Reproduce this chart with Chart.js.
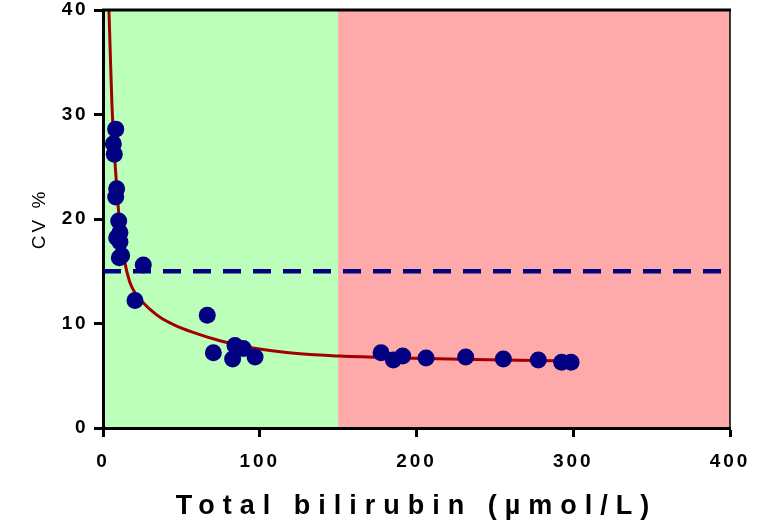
<!DOCTYPE html>
<html>
<head>
<meta charset="utf-8">
<script src="https://cdn.jsdelivr.net/npm/chart.js@4.4.0/dist/chart.umd.min.js"></script>
<style>
  html, body { margin: 0; padding: 0; background: #fff; }
  canvas { display: block; }
</style>
</head>
<body>
<canvas id="cv-chart" width="765" height="527"></canvas>
<script>
// ---- data ----
const bilirubin = [8.1, 6.6, 7.2, 8.7, 8.1, 10.0, 10.8, 8.7, 10.8, 11.9, 10.4, 25.7, 20.4,
                   66.5, 70.4, 84.2, 89.5, 82.7, 97.0,
                   177.4, 185.2, 191.2, 206.1, 231.4, 255.4, 277.7, 292.6, 298.6];
const cvPercent = [28.6, 27.2, 26.2, 22.9, 22.1, 19.8, 18.7, 18.2, 17.8, 16.5, 16.3, 15.6, 12.2,
                   10.8, 7.2, 7.9, 7.6, 6.6, 6.8,
                   7.2, 6.5, 6.9, 6.7, 6.8, 6.6, 6.5, 6.3, 6.3];

// fitted curve
const fitX = [3.8, 4.9, 5.7, 7.0, 8.3, 9.1, 10.5, 12, 14, 17, 21, 25.5, 30, 36.4, 45, 56.6,
              74.6, 95.7, 125.7, 151.2, 190, 227.8, 265, 298.6];
const fitY = [40, 34.6, 31.0, 27.0, 24.0, 22.3, 19.8, 17.8, 15.8, 14.0, 12.8, 12.0, 11.35, 10.6, 9.9, 9.2,
              8.35, 7.65, 7.1, 6.88, 6.7, 6.58, 6.48, 6.4];

const cvLimit   = 15;          // dashed acceptance line
const limitSpan = [0, 400];
const greenZone = [0, 150];
const redZone   = [150, 400];

const xTicks = [0, 100, 200, 300, 400];
const yTicks = [0, 10, 20, 30, 40];

const FONT = '"Liberation Sans", Arial, sans-serif';

// zone shading + top/right frame
const zonePlugin = {
  id: 'zones',
  beforeDraw(chart) {
    const { ctx, chartArea: a, scales: { x } } = chart;
    ctx.save();
    ctx.fillStyle = '#bbffbb';
    ctx.fillRect(x.getPixelForValue(greenZone[0]), a.top, x.getPixelForValue(greenZone[1]) - x.getPixelForValue(greenZone[0]), a.bottom - a.top);
    ctx.fillStyle = '#ffaaaa';
    ctx.fillRect(x.getPixelForValue(redZone[0]), a.top, x.getPixelForValue(redZone[1]) - x.getPixelForValue(redZone[0]), a.bottom - a.top);
    ctx.restore();
  },
  afterDraw(chart) {
    const { ctx, chartArea: a } = chart;
    ctx.save();
    ctx.strokeStyle = '#000';
    ctx.lineWidth = 3;
    ctx.beginPath(); ctx.moveTo(a.left - 1, a.top); ctx.lineTo(a.right + 1, a.top); ctx.stroke();
    ctx.lineWidth = 1.5;
    ctx.beginPath(); ctx.moveTo(a.right, a.top); ctx.lineTo(a.right, a.bottom); ctx.stroke();
    ctx.restore();
  }
};

// letter spacing for the spaced-out axis text
const spacingPlugin = {
  id: 'spacing',
  beforeDraw(chart) {
    const ctx = chart.ctx;
    Object.values(chart.scales).forEach(s => {
      if (s._spaced) return;
      s._spaced = true;
      const drawTitle  = s.drawTitle.bind(s);
      const drawLabels = s.drawLabels.bind(s);
      s.drawTitle  = () => { ctx.letterSpacing = s.axis === 'x' ? '8px' : '3px'; drawTitle(); ctx.letterSpacing = '0px'; };
      s.drawLabels = (ca) => { ctx.letterSpacing = s.axis === 'x' ? '3px' : '2.5px'; drawLabels(ca); ctx.letterSpacing = '0px'; };
    });
  }
};

new Chart(document.getElementById('cv-chart'), {
  type: 'scatter',
  data: {
    datasets: [
      {
        label: 'CV',
        data: bilirubin.map((b, i) => ({ x: b, y: cvPercent[i] })),
        backgroundColor: '#000080',
        borderWidth: 0,
        pointRadius: 8.5,
        pointHoverRadius: 8.5,
        order: 0,
      },
      {
        label: 'Limit',
        type: 'line',
        data: limitSpan.map(v => ({ x: v, y: cvLimit })),
        borderColor: '#000080',
        borderWidth: 4.5,
        borderDash: [18, 12],
        pointRadius: 0,
        showLine: true,
        fill: false,
        order: 1,
      },
      {
        label: 'Fit',
        type: 'line',
        data: fitX.map((v, i) => ({ x: v, y: fitY[i] })),
        borderColor: '#a00000',
        borderWidth: 3,
        pointRadius: 0,
        showLine: true,
        fill: false,
        cubicInterpolationMode: 'monotone',
        order: 2,
      }
    ]
  },
  options: {
    responsive: false,
    animation: false,
    devicePixelRatio: 1,
    layout: { padding: { left: 0, right: 35, top: 10, bottom: 0 } },
    plugins: { legend: { display: false }, tooltip: { enabled: false } },
    scales: {
      x: {
        type: 'linear',
        min: 0, max: 400,
        afterBuildTicks: s => { s.ticks = xTicks.map(v => ({ value: v })); },
        afterFit: s => { s.height = 99; },
        grid: { drawOnChartArea: false, drawTicks: true, tickLength: 9, tickWidth: 3, tickColor: '#000' },
        border: { display: true, width: 3, color: '#000' },
        ticks: { color: '#000', padding: 13, font: { family: FONT, size: 19, weight: 'bold' } },
        title: {
          display: true, text: 'Total bilirubin (µmol/L)', color: '#000',
          font: { family: FONT, size: 27, weight: 'bold' },
          padding: { top: 0, bottom: 4 }
        }
      },
      y: {
        type: 'linear',
        min: 0, max: 40,
        afterBuildTicks: s => { s.ticks = yTicks.map(v => ({ value: v })); },
        afterFit: s => { s.width = 103; s.paddingTop = 0; s.paddingBottom = 0; },
        grid: { drawOnChartArea: false, drawTicks: true, tickLength: 9, tickWidth: 3, tickColor: '#000' },
        border: { display: true, width: 3, color: '#000' },
        ticks: { color: '#000', padding: 6, font: { family: FONT, size: 19, weight: 'bold' } },
        title: {
          display: true, text: 'CV %', color: '#000',
          font: { family: FONT, size: 19, weight: 'normal' },
          padding: { top: 28, bottom: 0 }
        }
      }
    }
  },
  plugins: [zonePlugin, spacingPlugin]
});
</script>
</body>
</html>
